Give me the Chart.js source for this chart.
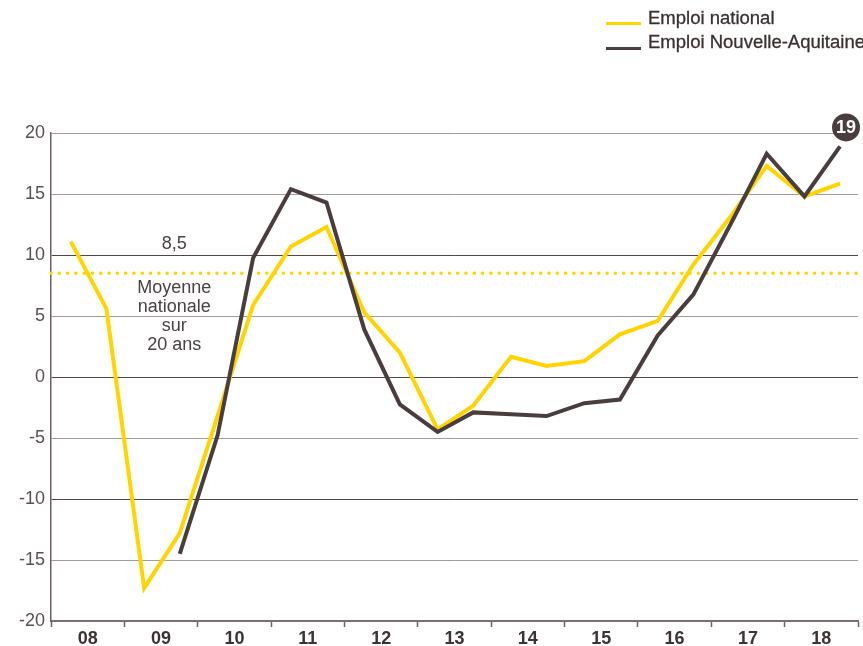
<!DOCTYPE html>
<html lang="fr">
<head>
<meta charset="utf-8">
<title>Emploi national et Nouvelle-Aquitaine</title>
<script src="https://cdn.jsdelivr.net/npm/chart.js@4.4.1/dist/chart.umd.min.js"></script>
<style>
  html, body { margin: 0; padding: 0; background: #fff; overflow: hidden; }
  #cadre { position: relative; width: 863px; height: 646px; overflow: hidden; }
  #graphique { position: absolute; left: 0; top: 0; }
  .trait { position: absolute; left: 606px; width: 35px; height: 3px; }
  .libelle {
    position: absolute; left: 648px; white-space: nowrap;
    font-family: "Liberation Sans", Arial, sans-serif; font-size: 18.5px;
    line-height: 20px; color: #3a3030; -webkit-text-stroke: 0.3px #3a3030;
  }
</style>
</head>
<body>
<div id="cadre">
  <canvas id="graphique" width="863" height="646"></canvas>
  <div id="legende"></div>
</div>
<script>
const anneesAxe = ["08", "09", "10", "11", "12", "13", "14", "15", "16", "17", "18"];
const periodes = [
  "2008-S1", "2008-S2", "2009-S1", "2009-S2", "2010-S1", "2010-S2",
  "2011-S1", "2011-S2", "2012-S1", "2012-S2", "2013-S1", "2013-S2",
  "2014-S1", "2014-S2", "2015-S1", "2015-S2", "2016-S1", "2016-S2",
  "2017-S1", "2017-S2", "2018-S1", "2018-S2"
];
const emploiNational = [
  11.1, 5.6, -17.3, -12.8, -3.2, 5.9, 10.7, 12.3, 5.3, 2.0, -4.3,
  -2.35, 1.65, 0.9, 1.3, 3.5, 4.6, 9.2, 13.2, 17.3, 14.8, 15.85
];
const emploiNouvelleAquitaine = [
  null, null, null, -14.5, -4.8, 9.75, 15.4, 14.3, 3.9, -2.25, -4.5,
  -2.9, -3.05, -3.2, -2.15, -1.85, 3.4, 6.75, 12.6, 18.3, 14.8, 18.9
];
const moyenneNationale = 8.5;
const texteMoyenne = ["Moyenne", "nationale", "sur", "20 ans"];

const jaune = "rgb(255, 212, 0)";
const brun = "#4a3d3d";
const police = '"Liberation Sans", Arial, sans-serif';

// position d'un semestre sur l'axe (0 = debut 2008)
function positionPeriode(p) {
  const [annee, sem] = p.split("-");
  return Number(annee) - 2008 + (sem === "S1" ? 0.27 : 0.755);
}

function points(serie) {
  return serie.map((v, i) => ({ x: positionPeriode(periodes[i]), y: v }));
}

const annotations = {
  id: "annotations",
  afterDatasetsDraw(chart) {
    const { ctx, scales: { x, y } } = chart;
    ctx.save();
    ctx.font = "18px " + police;
    ctx.fillStyle = "#4a4242";
    ctx.textAlign = "center";
    ctx.textBaseline = "middle";
    const cx = x.getPixelForValue(1.68);
    const ym = y.getPixelForValue(moyenneNationale);
    ctx.fillText(String(moyenneNationale).replace(".", ","), cx, ym - 29);
    texteMoyenne.forEach((ligne, i) => ctx.fillText(ligne, cx, ym + 15 + i * 19));

    // pastille sur la derniere valeur regionale
    const meta = chart.getDatasetMeta(0);
    const dernier = meta.data[meta.data.length - 1];
    const valeur = emploiNouvelleAquitaine[emploiNouvelleAquitaine.length - 1];
    const bx = dernier.x + 6;
    const by = dernier.y - 19;
    ctx.beginPath();
    ctx.arc(bx, by, 14, 0, Math.PI * 2);
    ctx.fillStyle = brun;
    ctx.fill();
    ctx.fillStyle = "#fff";
    ctx.font = "bold 18px " + police;
    ctx.fillText(String(Math.round(valeur)), bx, by + 1);
    ctx.restore();
  }
};

const graphique = new Chart(document.getElementById("graphique"), {
  type: "line",
  data: {
    datasets: [
      {
        label: "Emploi Nouvelle-Aquitaine",
        data: points(emploiNouvelleAquitaine),
        borderColor: brun,
        borderWidth: 4,
        borderJoinStyle: "miter",
        pointRadius: 0,
        tension: 0,
        order: 0
      },
      {
        label: "Emploi national",
        data: points(emploiNational),
        borderColor: jaune,
        borderWidth: 4,
        borderJoinStyle: "miter",
        pointRadius: 0,
        tension: 0,
        order: 1
      },
      {
        label: "Moyenne nationale sur 20 ans",
        data: [{ x: 0, y: moyenneNationale }, { x: anneesAxe.length, y: moyenneNationale }],
        borderColor: jaune,
        borderWidth: 3.6,
        borderDash: [0, 8.3],
        borderCapStyle: "round",
        pointRadius: 0,
        clip: false,
        order: 2
      }
    ]
  },
  options: {
    responsive: false,
    animation: false,
    devicePixelRatio: 1,
    layout: { padding: { top: 133, right: 5, left: 0, bottom: 0 } },
    plugins: {
      legend: { display: false },
      tooltip: { enabled: false }
    },
    scales: {
      x: {
        type: "linear",
        min: 0,
        max: anneesAxe.length,
        afterFit: (s) => { s.height = 25; },
        ticks: {
          stepSize: 0.5,
          autoSkip: false,
          maxRotation: 0,
          padding: 1,
          color: "#3d3333",
          font: { family: police, size: 18, weight: "bold" },
          callback: (v) => {
            const i = Math.floor(v);
            return Math.abs(v - i - 0.5) < 0.01 ? anneesAxe[i] : "";
          }
        },
        grid: {
          drawOnChartArea: false,
          drawTicks: true,
          tickLength: 6,
          tickWidth: 1.5,
          tickColor: (c) => (c.tick && Math.abs(c.tick.value % 1) < 0.01 ? "#6b6161" : "rgba(0,0,0,0)")
        },
        border: { display: true, color: "#7a7070", width: 2 }
      },
      y: {
        min: -20,
        max: 20,
        afterFit: (s) => { s.width = 51; },
        ticks: {
          stepSize: 5,
          padding: 6,
          color: "#5a5050",
          font: { family: police, size: 18 }
        },
        grid: {
          drawTicks: false,
          lineWidth: 1,
          color: (c) => {
            const v = c.tick ? c.tick.value : 0;
            return (v === 10 || v === 0 || v === -10) ? "#514747" : "#a39c9c";
          }
        },
        border: { display: true, color: "#6b6161", width: 1.5 }
      }
    }
  },
  plugins: [annotations]
});

// legende a deux lignes en haut a droite
const legende = document.getElementById("legende");
[
  { ds: graphique.data.datasets[1], haut: 22, texte: 8 },
  { ds: graphique.data.datasets[0], haut: 46.5, texte: 32 }
].forEach((item) => {
  const trait = document.createElement("div");
  trait.className = "trait";
  trait.style.top = item.haut + "px";
  trait.style.background = item.ds.borderColor;
  legende.appendChild(trait);
  const libelle = document.createElement("div");
  libelle.className = "libelle";
  libelle.style.top = item.texte + "px";
  libelle.textContent = item.ds.label;
  legende.appendChild(libelle);
});
</script>
</body>
</html>
